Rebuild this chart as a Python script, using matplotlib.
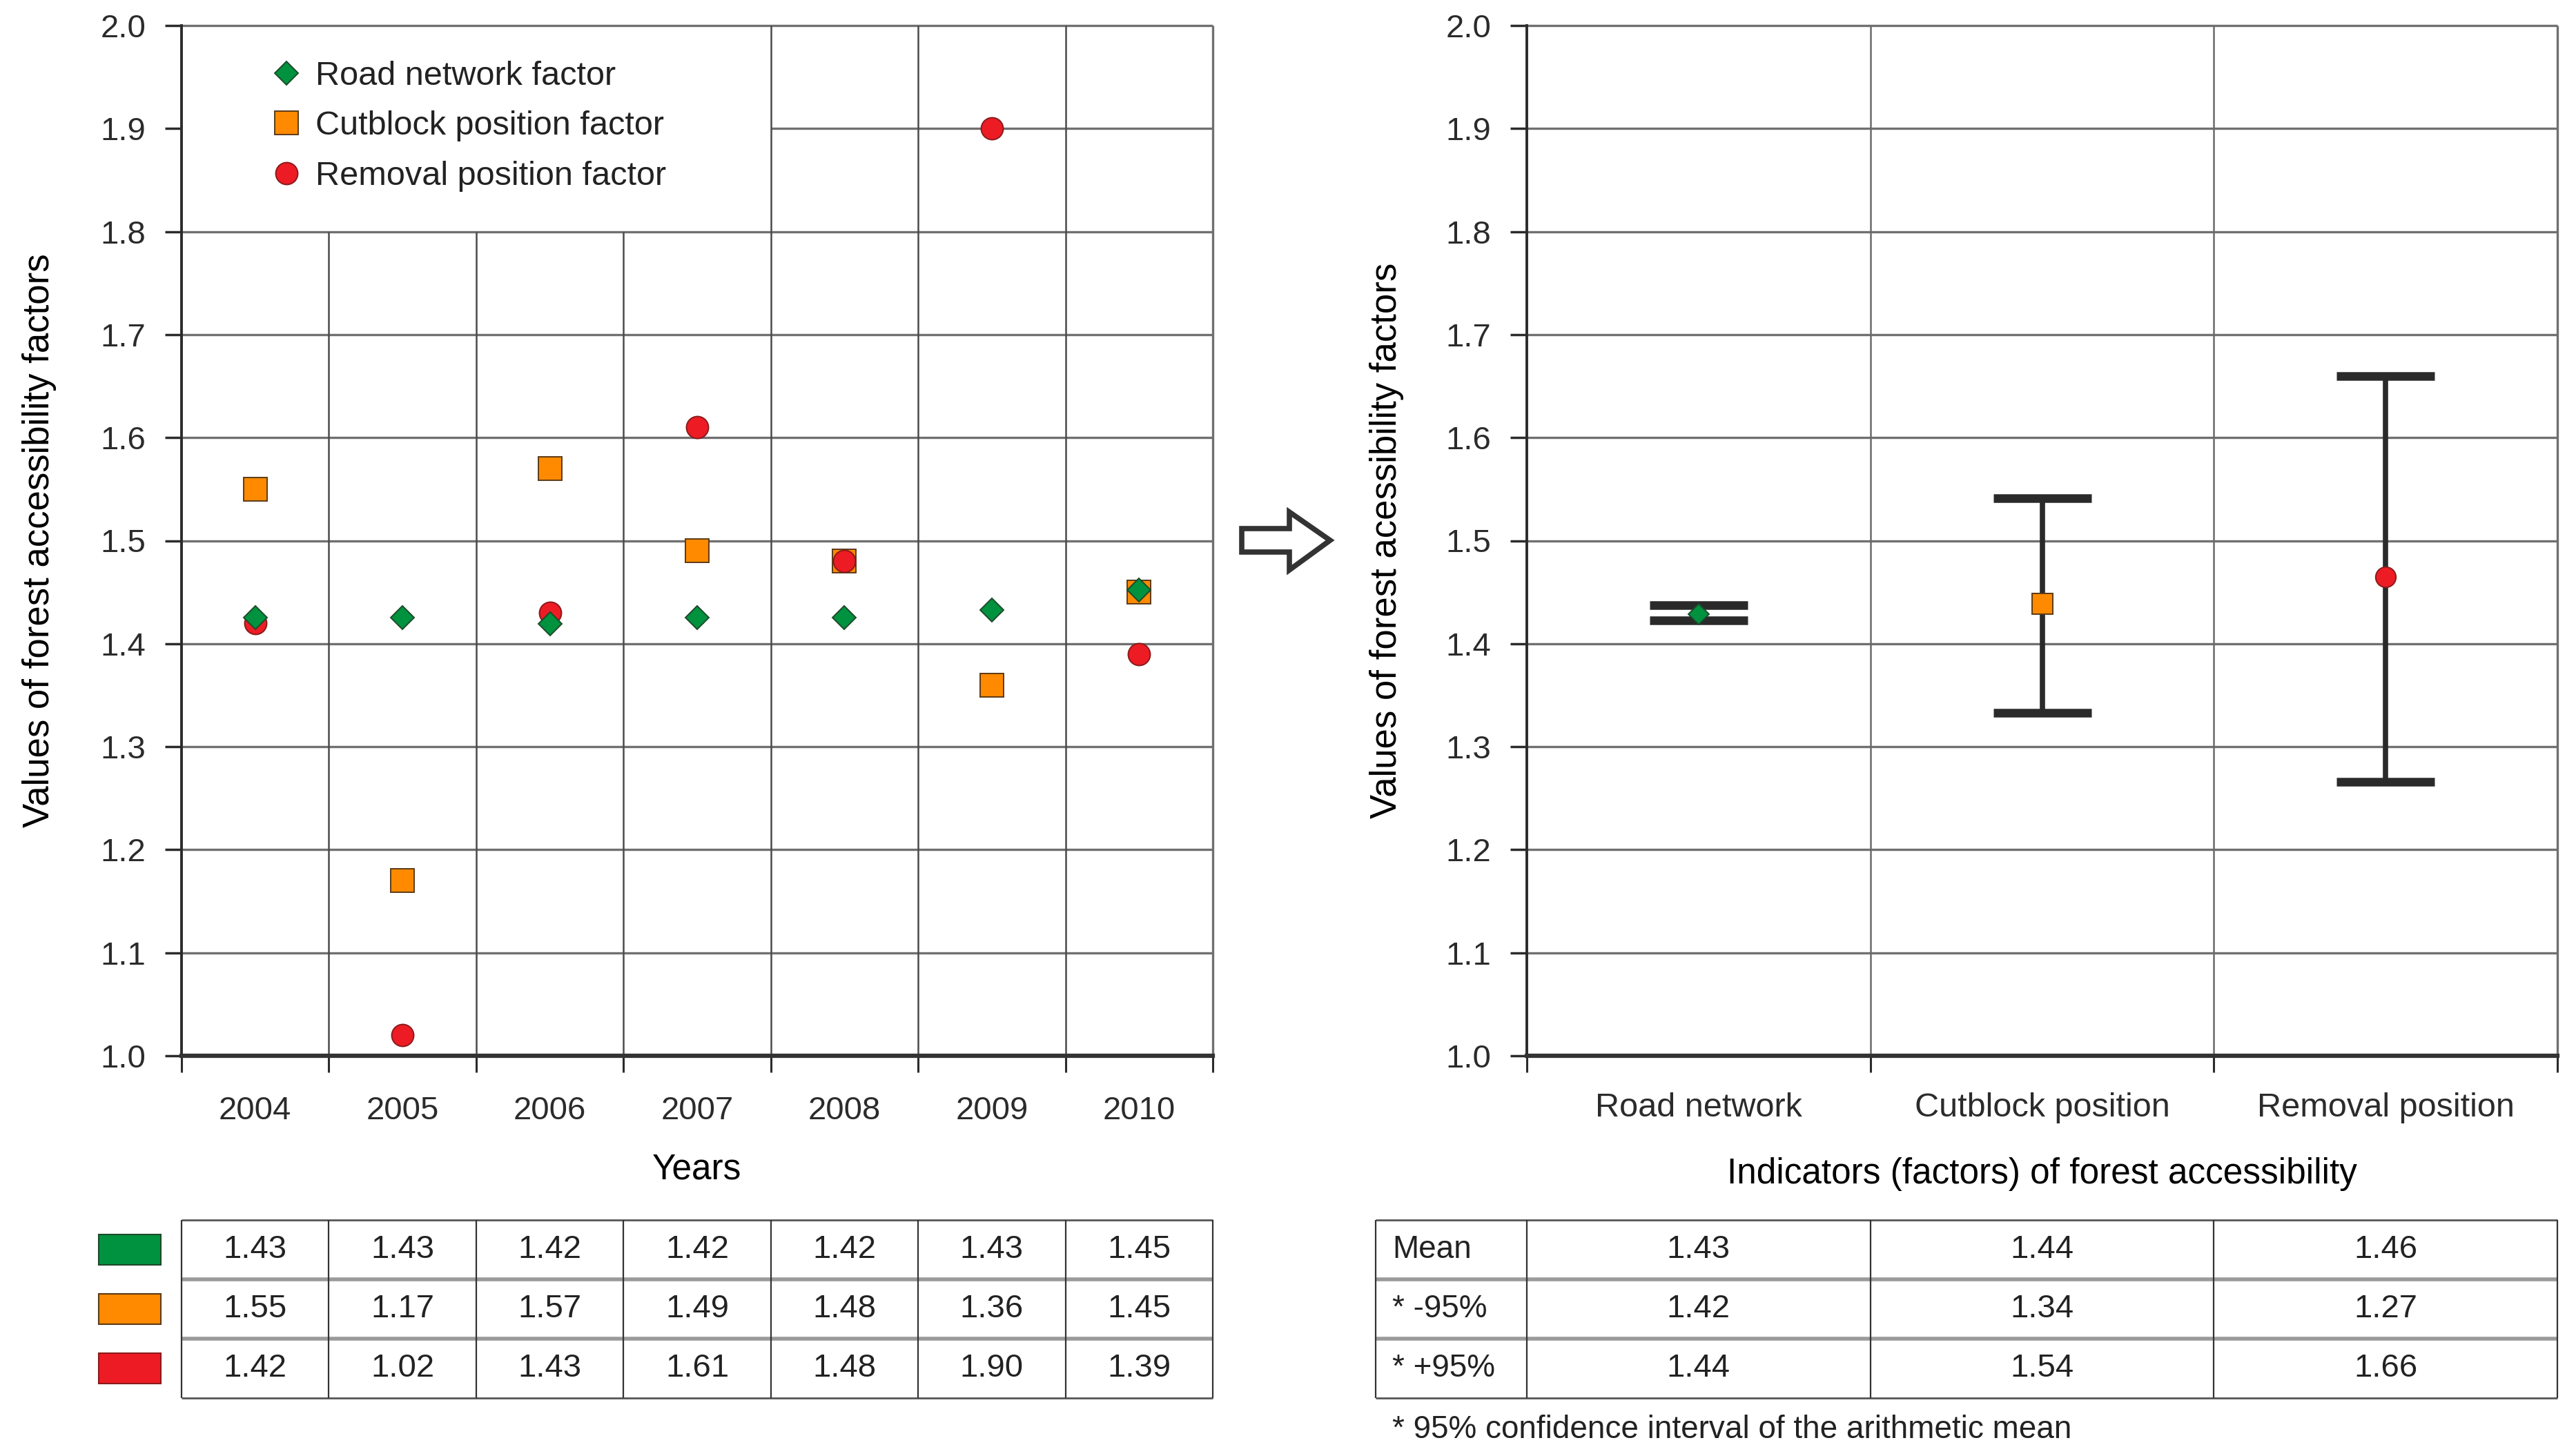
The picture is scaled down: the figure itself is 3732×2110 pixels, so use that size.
import numpy as np
import matplotlib.pyplot as plt
from matplotlib.patches import Polygon, Rectangle

W, H, DPI = 3732, 2110, 100

plt.rcParams['font.family'] = ['Liberation Sans Narrow', 'Liberation Sans', 'DejaVu Sans']
plt.rcParams['text.color'] = '#222222'
plt.rcParams['xtick.color'] = '#2b2b2b'
plt.rcParams['ytick.color'] = '#2b2b2b'

# left chart: factor values by year
years = [2004, 2005, 2006, 2007, 2008, 2009, 2010]
road_pts = [1.425, 1.425, 1.419, 1.425, 1.425, 1.433, 1.452]
cut_pts = [1.55, 1.17, 1.57, 1.49, 1.48, 1.36, 1.45]
rem_pts = [1.42, 1.02, 1.43, 1.61, 1.48, 1.90, 1.39]
road_tab = [1.43, 1.43, 1.42, 1.42, 1.42, 1.43, 1.45]
cut_tab = [1.55, 1.17, 1.57, 1.49, 1.48, 1.36, 1.45]
rem_tab = [1.42, 1.02, 1.43, 1.61, 1.48, 1.90, 1.39]
factor_names = ['Road network factor', 'Cutblock position factor', 'Removal position factor']

# right chart: mean and 95% interval
indicators = ['Road network', 'Cutblock position', 'Removal position']
mean_pts = [1.429, 1.439, 1.465]
low_pts = [1.4225, 1.333, 1.266]
high_pts = [1.4375, 1.541, 1.660]
mean_tab = [1.43, 1.44, 1.46]
low_tab = [1.42, 1.34, 1.27]
high_tab = [1.44, 1.54, 1.66]
row_names = ['Mean', '* -95%', '* +95%']

yticks = [1.0, 1.1, 1.2, 1.3, 1.4, 1.5, 1.6, 1.7, 1.8, 1.9, 2.0]

green, orange, red = '#00923f', '#ff8a00', '#ed1c24'
green_e, orange_e, red_e = '#1d4a2a', '#5b3a17', '#8a1a1c'
mk = {
    'road': dict(marker='D', color=green, mec=green_e),
    'cut': dict(marker='s', color=orange, mec=orange_e),
    'rem': dict(marker='o', color=red, mec=red_e),
}
msize = {'road': 17, 'cut': 24, 'rem': 23}


def box(l, t, r, b):
    return [l / W, 1 - b / H, (r - l) / W, (b - t) / H]


def style_axes(ax, lo, hi, centers, labels, xsize, xpad):
    ax.set_xlim(lo, hi)
    ax.set_ylim(1.0, 2.0)
    ax.set_yticks(yticks)
    ax.set_yticklabels(['%.1f' % v for v in yticks])
    ax.set_xticks(centers)
    ax.set_xticklabels(labels)
    ax.set_xticks(np.arange(lo, hi + 0.01, 1.0), minor=True)
    ax.tick_params(axis='y', direction='out', length=17, width=2.5, labelsize=34, pad=20)
    ax.tick_params(axis='x', which='major', length=0, labelsize=xsize, pad=xpad)
    ax.tick_params(axis='x', which='minor', direction='out', length=17, width=2.2)
    for s in ['top', 'right']:
        ax.spines[s].set_visible(False)
    ax.spines['left'].set_color('#2b2b2b')
    ax.spines['left'].set_linewidth(2.8)
    ax.spines['bottom'].set_color('#333333')
    ax.spines['bottom'].set_linewidth(4.5)
    ax.spines['left'].set_zorder(6)
    ax.spines['bottom'].set_zorder(6)


fig = plt.figure(figsize=(W / DPI, H / DPI), dpi=DPI)

# ---- left chart
ax1 = fig.add_axes(box(263, 37, 1757, 1530))
x_lo, x_hi = years[0] - 0.5, years[-1] + 0.5
style_axes(ax1, x_lo, x_hi, years, [str(y) for y in years], 34, 42)
bounds = np.arange(x_lo + 1, x_hi, 1.0)
ax1.hlines(yticks[1:9], x_lo, x_hi, color='#707070', lw=2.4, zorder=1)
ax1.hlines(1.9, 2007.5, x_hi, color='#707070', lw=2.4, zorder=1)
ax1.hlines(2.0, x_lo, x_hi, color='#707070', lw=2.4, zorder=1, clip_on=False)
for b in bounds:
    top = 1.8 if b < 2007 else 2.0
    ax1.vlines(b, 1.0, top, color='#4a4a4a', lw=1.8, zorder=1)
ax1.vlines(x_hi, 1.0, 2.0, color='#707070', lw=2.4, zorder=1, clip_on=False)

h_cut, = ax1.plot(years, cut_pts, ls='none', ms=msize['cut'], mew=1.4, zorder=3, **mk['cut'])
h_rem, = ax1.plot(years, rem_pts, ls='none', ms=msize['rem'], mew=1.4, zorder=4, **mk['rem'])
h_road, = ax1.plot(years, road_pts, ls='none', ms=msize['road'], mew=1.4, zorder=5, **mk['road'])
ax1.legend([h_road, h_cut, h_rem], factor_names, loc='upper left',
           bbox_to_anchor=(0.083, 0.966), frameon=False, fontsize=35,
           handlelength=1.15, handletextpad=0.3, borderpad=0, borderaxespad=0,
           labelspacing=0.57, numpoints=1)
ax1.set_xlabel('Years', fontsize=37, va='top')
ax1.xaxis.set_label_coords(0.5, -0.0944)
ax1.set_ylabel('Values of forest accessibility factors', fontsize=38, va='center')
ax1.yaxis.set_label_coords(-0.138, 0.5)

# ---- right chart
ax2 = fig.add_axes(box(2212, 37, 3705, 1530))
pos = np.arange(len(indicators))
style_axes(ax2, -0.5, 2.5, pos, indicators, 35, 38)
ax2.hlines(yticks[1:10], -0.5, 2.5, color='#707070', lw=2.4, zorder=1)
ax2.hlines(2.0, -0.5, 2.5, color='#707070', lw=2.4, zorder=1, clip_on=False)
ax2.vlines([0.5, 1.5], 1.0, 2.0, color='#6a6a6a', lw=1.8, zorder=1)
ax2.vlines(2.5, 1.0, 2.0, color='#707070', lw=2.4, zorder=1, clip_on=False)

means = np.array(mean_pts)
yerr = [means - np.array(low_pts), np.array(high_pts) - means]
ax2.errorbar(pos, means, yerr=yerr, fmt='none', ecolor='#2a2a2a', elinewidth=5.5,
             capsize=51, capthick=9, zorder=3)
for p, m, key in zip(pos, mean_pts, ['road', 'cut', 'rem']):
    ax2.plot([p], [m], ls='none', ms=msize[key] * 0.92, mew=1.4, zorder=5, **mk[key])
ax2.set_xlabel('Indicators (factors) of forest accessibility', fontsize=37, va='top')
ax2.xaxis.set_label_coords(0.5, -0.0984)
ax2.set_ylabel('Values of forest acessibility factors', fontsize=38, va='center')
ax2.yaxis.set_label_coords(-0.136, 0.5)

# ---- left table
t1 = fig.add_axes(box(263, 1768, 1757, 2026))
t1.set_xlim(x_lo, x_hi)
t1.set_ylim(3, 0)
t1.axis('off')
t1.hlines([0, 3], x_lo, x_hi, color='#555555', lw=2, clip_on=False)
t1.hlines([1, 2], x_lo, x_hi, color='#9a9a9a', lw=4, clip_on=False)
t1.vlines(np.arange(x_lo, x_hi + 0.01, 1.0), 0, 3, color='#333333', lw=1.6, clip_on=False)
sw_w = 90 / 213.4
sw_x = x_lo - 120 / 213.4
for r, (vals, fc, ec) in enumerate(zip([road_tab, cut_tab, rem_tab],
                                       [green, orange, red], [green_e, orange_e, red_e])):
    for x, v in zip(years, vals):
        t1.text(x, r + 0.5, '%.2f' % v, ha='center', va='center', fontsize=34)
    t1.add_patch(Rectangle((sw_x, r + 0.5 - 0.256), sw_w, 0.512, facecolor=fc,
                           edgecolor=ec, lw=1.5, clip_on=False))

# ---- right table
t2 = fig.add_axes(box(1993, 1768, 3705, 2026))
first_w = 219 / 497.7
t2.set_xlim(-0.5 - first_w, 2.5)
t2.set_ylim(3, 0)
t2.axis('off')
t2.hlines([0, 3], -0.5 - first_w, 2.5, color='#555555', lw=2, clip_on=False)
t2.hlines([1, 2], -0.5 - first_w, 2.5, color='#9a9a9a', lw=4, clip_on=False)
t2.vlines([-0.5 - first_w, -0.5, 0.5, 1.5, 2.5], 0, 3, color='#333333', lw=1.6, clip_on=False)
for r, (name, vals) in enumerate(zip(row_names, [mean_tab, low_tab, high_tab])):
    t2.text(-0.5 - first_w + 24 / 497.7, r + 0.5, name, ha='left', va='center', fontsize=33)
    for p, v in zip(pos, vals):
        t2.text(p, r + 0.5, '%.2f' % v, ha='center', va='center', fontsize=34)

fig.text(2017 / W, 1 - 2072 / H, '* 95% confidence interval of the arithmetic mean',
         fontsize=33, va='center', ha='left')

# arrow between the panels
arrow_px = [(1799, 766), (1868, 766), (1868, 742), (1927, 783),
            (1868, 826), (1868, 800), (1799, 800)]
arrow = Polygon([(x / W, 1 - y / H) for x, y in arrow_px], closed=True,
                facecolor='white', edgecolor='#333333', lw=5.5,
                transform=fig.transFigure)
fig.add_artist(arrow)

fig.savefig('out.png', dpi=DPI)
